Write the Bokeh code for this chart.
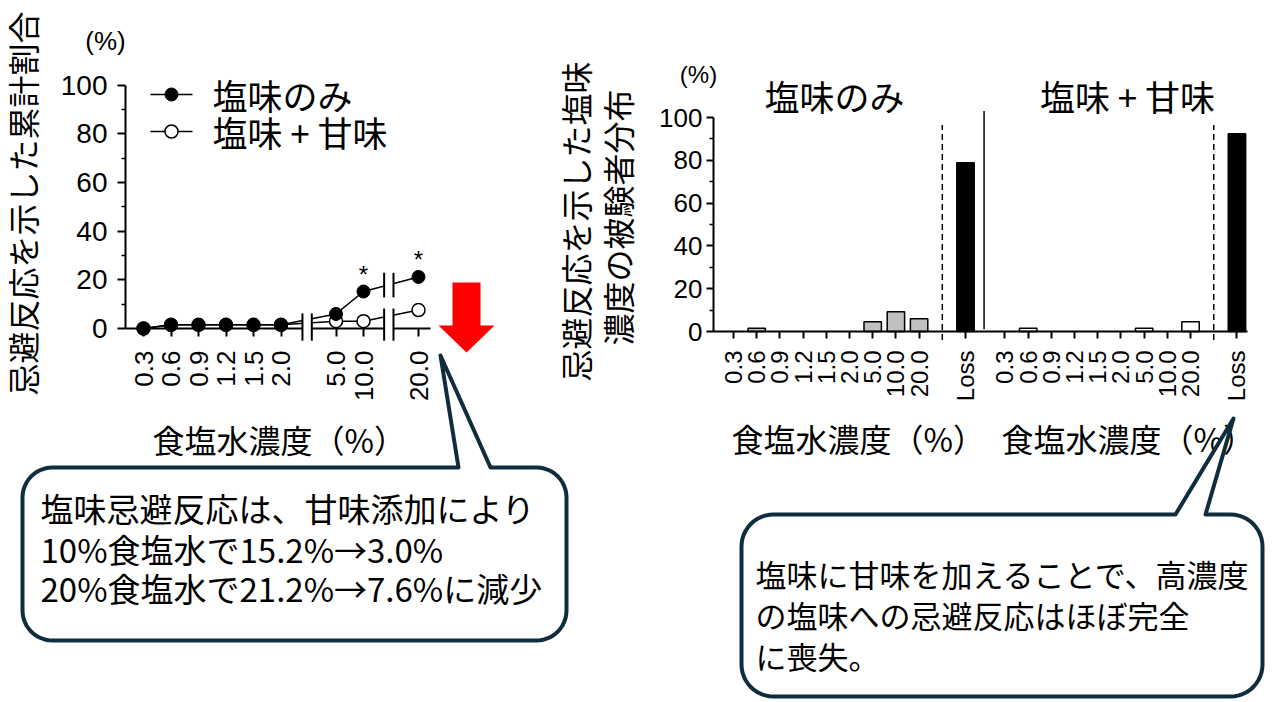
import math
from bokeh.plotting import figure
from bokeh.models import Range1d, LinearAxis, FixedTicker
from bokeh.core.properties import value
from bokeh.embed import file_html
from bokeh.resources import INLINE

# ---------------- data ----------------
concentrations = ["0.3", "0.6", "0.9", "1.2", "1.5", "2.0", "5.0", "10.0", "20.0"]
cum_salt_only = [0.0, 1.5, 1.5, 1.5, 1.5, 1.5, 6.0, 15.2, 21.2]
cum_salt_sweet = [0.0, 1.5, 1.5, 1.5, 1.5, 1.5, 3.0, 3.0, 7.6]
significant = [False, False, False, False, False, False, False, True, True]
dist_salt_only = [0.0, 1.5, 0.0, 0.0, 0.0, 0.0, 4.5, 9.2, 6.0]
dist_salt_sweet = [0.0, 1.5, 0.0, 0.0, 0.0, 0.0, 1.5, 0.0, 4.6]
loss_label = "Loss"
loss_values = [78.8, 92.4]
y_ticks = [0, 20, 40, 60, 80, 100]
series_names = ["塩味のみ", "塩味 + 甘味"]

left_ytitle = "忌避反応を示した累計割合"
right_ytitle = ["忌避反応を示した塩味", "濃度の被験者分布"]
xtitle = "食塩水濃度（%）"
note_left = ["塩味忌避反応は、甘味添加により",
             "10%食塩水で15.2%→3.0%",
             "20%食塩水で21.2%→7.6%に減少"]
note_right = ["塩味に甘味を加えることで、高濃度",
              "の塩味への忌避反応はほぼ完全",
              "に喪失。"]

# ---------------- layout ----------------
W, H = 1280, 702
JP = value("Noto Sans CJK JP")
NOTE_FONT = value("Liberation Sans Narrow, Noto Sans CJK JP")
LAT = value("Liberation Sans")
EDGE = "#102d3e"


def py(y):
    return H - y


p = figure(width=W, height=H, x_range=Range1d(0, W), y_range=Range1d(0, H),
           x_axis_type=None, y_axis_type=None, output_backend="svg",
           toolbar_location=None, min_border=0, outline_line_color=None)
p.background_fill_color = "white"
p.border_fill_color = "white"

LX0, LDX, LY0, LDY = 143.0, 27.5, 328.0, 2.433
RX0, RDX, RY0, RDY = 733.0, 2.32, 331.0, 2.14
p.extra_x_ranges = {"lx": Range1d((0 - LX0) / LDX, (W - LX0) / LDX),
                    "rx": Range1d((0 - RX0) / RDX, (W - RX0) / RDX)}
p.extra_y_ranges = {"ly": Range1d((LY0 - H) / LDY, (LY0 - 0) / LDY),
                    "ry": Range1d((RY0 - H) / RDY, (RY0 - 0) / RDY)}
L = dict(x_range_name="lx", y_range_name="ly")
R = dict(x_range_name="rx", y_range_name="ry")

# ================= left chart =================
left_pos = [0, 1, 2, 3, 4, 5, 7, 8, 10]
l_ax0 = (125 - LX0) / LDX
l_ax1 = (430 - LX0) / LDX
breaks = [5.95, 8.92]
half = 0.17
break_spans = [[(-5, 6.2)], [(-5, 8.2), (12.8, 22.9)]]

p.segment(x0=[l_ax0], y0=[0], x1=[l_ax1], y1=[0], line_color="black", line_width=2, **L)
p.line(left_pos, cum_salt_sweet, line_color="black", line_width=1.5, **L)
p.line(left_pos, cum_salt_only, line_color="black", line_width=1.5, **L)
p.quad(left=[b - half + 0.02 for b in breaks], right=[b + half - 0.02 for b in breaks],
       bottom=[-3, -3], top=[9, 25], fill_color="white", line_color=None, **L)
bx0, by0, bx1, by1 = [], [], [], []
for b, spans in zip(breaks, break_spans):
    for (lo, hi) in spans:
        for xx in (b - half, b + half):
            bx0.append(xx); bx1.append(xx); by0.append(lo); by1.append(hi)
p.segment(x0=bx0, y0=by0, x1=bx1, y1=by1, line_color="black", line_width=2, **L)

p.scatter(left_pos, cum_salt_sweet, marker="circle", size=13, fill_color="white",
          line_color="black", line_width=1.5, **L)
p.scatter(left_pos, cum_salt_only, marker="circle", size=13, fill_color="black",
          line_color="black", line_width=1, **L)
sx = [x for x, s in zip(left_pos, significant) if s]
sy = [v for v, s in zip(cum_salt_only, significant) if s]
p.text(x=sx, y=sy, text=["*"] * len(sx), y_offset=-17, text_align="center",
       text_baseline="middle", text_font=LAT, text_font_size="24px", **L)

minor = [(a + b) / 2 for a, b in zip(y_ticks[:-1], y_ticks[1:])]
ly_axis = LinearAxis(x_range_name="lx", y_range_name="ly", fixed_location=l_ax0,
                     bounds=(0, 100), ticker=FixedTicker(ticks=y_ticks, minor_ticks=minor))
ly_axis.axis_line_width = 2
ly_axis.major_tick_line_width = 2
ly_axis.minor_tick_line_width = 1.5
ly_axis.major_tick_out = 8
ly_axis.major_tick_in = 0
ly_axis.minor_tick_out = 4
ly_axis.minor_tick_in = 0
ly_axis.major_label_standoff = 10
ly_axis.major_label_text_font = "Liberation Sans"
ly_axis.major_label_text_font_size = "28px"
ly_axis.major_label_text_color = "black"

lx_axis = LinearAxis(x_range_name="lx", y_range_name="ly", fixed_location=0,
                     ticker=FixedTicker(ticks=left_pos),
                     major_label_overrides={pos: c for pos, c in zip(left_pos, concentrations)})
lx_axis.axis_line_color = None
lx_axis.major_tick_out = 8
lx_axis.major_tick_in = 0
lx_axis.major_tick_line_width = 2
lx_axis.minor_tick_line_color = None
lx_axis.major_label_orientation = math.pi / 2
lx_axis.major_label_standoff = 14
lx_axis.major_label_text_font = "Liberation Sans"
lx_axis.major_label_text_font_size = "26px"
lx_axis.major_label_text_color = "black"
p.add_layout(ly_axis, "left")
p.add_layout(lx_axis, "below")

# ================= right chart =================
g1 = [10 * i for i in range(len(concentrations))]
g2 = [117 + 10 * i for i in range(len(concentrations))]
loss_pos = [100, 217]
dash_pos = [90, 207]
sep_pos = 108
r_ax0 = (713 - RX0) / RDX
r_ax1 = (1247 - RX0) / RDX
BW = 7.5

nz1 = [(x, v) for x, v in zip(g1, dist_salt_only) if v > 0]
nz2 = [(x, v) for x, v in zip(g2, dist_salt_sweet) if v > 0]
p.vbar(x=[a for a, _ in nz1], top=[b for _, b in nz1], bottom=0, width=BW,
       fill_color="#c0c0c0", line_color="black", line_width=1.5, **R)
p.vbar(x=[a for a, _ in nz2], top=[b for _, b in nz2], bottom=0, width=BW,
       fill_color="white", line_color="black", line_width=1.5, **R)
p.vbar(x=loss_pos, top=loss_values, bottom=0, width=BW,
       fill_color="black", line_color="black", line_width=1.5, **R)
p.segment(x0=dash_pos, y0=[-4, -4], x1=dash_pos, y1=[96.5, 96.5], line_color="black",
          line_width=1.5, line_dash="6 4", **R)
p.segment(x0=[sep_pos], y0=[1], x1=[sep_pos], y1=[103], line_color="black",
          line_width=1.5, **R)

r_ticks = g1 + [loss_pos[0]] + g2 + [loss_pos[1]]
r_labels = concentrations + [loss_label] + concentrations + [loss_label]
ry_axis = LinearAxis(x_range_name="rx", y_range_name="ry", fixed_location=r_ax0,
                     bounds=(0, 100), ticker=FixedTicker(ticks=y_ticks, minor_ticks=minor))
ry_axis.axis_line_width = 2
ry_axis.major_tick_line_width = 2
ry_axis.minor_tick_line_width = 1.5
ry_axis.major_tick_out = 7
ry_axis.major_tick_in = 0
ry_axis.minor_tick_out = 4
ry_axis.minor_tick_in = 0
ry_axis.major_label_standoff = 4
ry_axis.major_label_text_font = "Liberation Sans"
ry_axis.major_label_text_font_size = "26px"
ry_axis.major_label_text_color = "black"
rx_axis = LinearAxis(x_range_name="rx", y_range_name="ry", fixed_location=0,
                     bounds=(r_ax0, r_ax1), ticker=FixedTicker(ticks=r_ticks),
                     major_label_overrides={t: s for t, s in zip(r_ticks, r_labels)})
rx_axis.axis_line_width = 2
rx_axis.major_tick_line_width = 2
rx_axis.major_tick_out = 7
rx_axis.major_tick_in = 0
rx_axis.minor_tick_line_color = None
rx_axis.major_label_orientation = math.pi / 2
rx_axis.major_label_standoff = 12
rx_axis.major_label_text_font = "Liberation Sans"
rx_axis.major_label_text_font_size = "24px"
rx_axis.major_label_text_color = "black"
p.add_layout(ry_axis, "left")
p.add_layout(rx_axis, "below")

# ================= texts & decorations (page pixels) =================
p.text(x=[21], y=[py(203)], text=[left_ytitle], angle=math.pi / 2, text_align="center",
       text_baseline="middle", text_font=JP, text_font_size="32px", text_color="black")
p.text(x=[105], y=[py(40)], text=["(%)"], text_align="center", text_baseline="middle",
       text_font=LAT, text_font_size="26px", text_color="black")

# legend
leg_y = [94, 131]
p.segment(x0=[150, 150], y0=[py(v) for v in leg_y], x1=[192, 192], y1=[py(v) for v in leg_y],
          line_color="black", line_width=1.5)
p.scatter([171], [py(leg_y[0])], marker="circle", size=13, fill_color="black", line_color="black")
p.scatter([171], [py(leg_y[1])], marker="circle", size=13, fill_color="white", line_color="black",
          line_width=1.5)
p.text(x=[212, 212], y=[py(v) for v in leg_y], text=series_names, text_align="left",
       text_baseline="middle", text_font=JP, text_font_size="35px", text_color="black")

p.text(x=[152], y=[py(438)], text=[xtitle], text_align="left", text_baseline="middle",
       text_font=JP, text_font_size="32px", text_color="black")

# red arrow
arrow = [(452, 282), (480, 282), (480, 325), (494, 325), (466, 352), (438, 325), (452, 325)]
p.patch([a for a, _ in arrow], [py(b) for _, b in arrow], fill_color="#ff0000", line_color=None)

# right chart texts
p.text(x=[574, 616], y=[py(221), py(217)], text=right_ytitle, angle=math.pi / 2,
       text_align="center", text_baseline="middle", text_font=JP, text_font_size="32px",
       text_color="black")
p.text(x=[698], y=[py(74)], text=["(%)"], text_align="center", text_baseline="middle",
       text_font=LAT, text_font_size="24px", text_color="black")
p.text(x=[834, 1127], y=[py(95), py(95)], text=series_names, text_align="center",
       text_baseline="middle", text_font=JP, text_font_size="35px", text_color="black")
p.text(x=[731, 1001], y=[py(437), py(437)], text=[xtitle, xtitle], text_align="left",
       text_baseline="middle", text_font=JP, text_font_size="32px", text_color="black")


def callout(x0, x1, y0, y1, r, n0, n1, tip):
    pts = [(x0 + r, y0), (n0, y0), tip, (n1, y0), (x1 - r, y0)]

    def arc(cx, cy, a0, a1):
        for k in range(1, 13):
            a = a0 + (a1 - a0) * k / 12
            pts.append((cx + r * math.cos(a), cy + r * math.sin(a)))

    arc(x1 - r, y0 + r, -math.pi / 2, 0)
    pts.append((x1, y1 - r))
    arc(x1 - r, y1 - r, 0, math.pi / 2)
    pts.append((x0 + r, y1))
    arc(x0 + r, y1 - r, math.pi / 2, math.pi)
    pts.append((x0, y0 + r))
    arc(x0 + r, y0 + r, math.pi, 1.5 * math.pi)
    return [a for a, _ in pts], [py(b) for _, b in pts]


cxs, cys = callout(22, 566, 467, 640, 30, 458, 490, (440, 355))
p.patch(cxs, cys, fill_color="white", line_color=EDGE, line_width=4, line_join="round")
cxs, cys = callout(741, 1262, 514, 696, 32, 1175, 1205, (1233, 418))
p.patch(cxs, cys, fill_color="white", line_color=EDGE, line_width=4, line_join="round")

p.text(x=[40] * 3, y=[py(507), py(548), py(587)], text=note_left, text_align="left",
       text_baseline="middle", text_font=NOTE_FONT, text_font_size="33px", text_color="black")
p.text(x=[755] * 3, y=[py(573), py(614), py(655)], text=note_right, text_align="left",
       text_baseline="middle", text_font=JP, text_font_size="31px", text_color="black")

open("out.html", "w", encoding="utf-8").write(file_html(p, INLINE, title="chart"))
